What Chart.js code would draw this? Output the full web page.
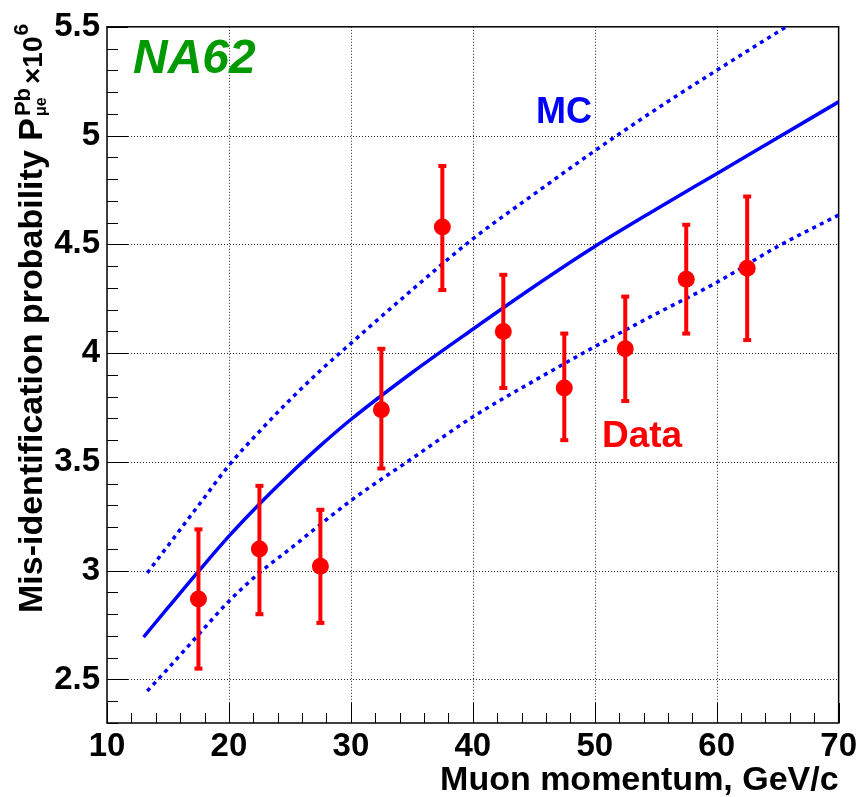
<!DOCTYPE html>
<html>
<head>
<meta charset="utf-8">
<script src="https://cdn.jsdelivr.net/npm/chart.js@4/dist/chart.umd.min.js"></script>
<style>
html,body{margin:0;padding:0;background:#fff;}
#c{display:block;}
</style>
</head>
<body>
<canvas id="c" width="861" height="797"></canvas>
<script>
// ---- data ----
const dataX    = [17.5, 22.5, 27.5, 32.5, 37.5, 42.5, 47.5, 52.5, 57.5, 62.5];
const dataY    = [2.87, 3.10, 3.02, 3.74, 4.58, 4.10, 3.84, 4.02, 4.34, 4.39];
const dataHigh = [3.19, 3.39, 3.28, 4.02, 4.86, 4.36, 4.09, 4.26, 4.59, 4.72];
const dataLow  = [2.55, 2.80, 2.76, 3.47, 4.29, 3.84, 3.60, 3.78, 4.09, 4.06];

const mcX = [13, 15, 17.5, 20, 22.5, 25, 27.5, 30, 35, 40, 45, 50, 55, 60, 65, 70];
const mcY = [2.695, 2.83, 2.997, 3.159, 3.307, 3.445, 3.575, 3.695, 3.91, 4.11, 4.305, 4.49, 4.66, 4.825, 4.99, 5.155];

const mcUpX = [13.3, 15, 17.5, 20, 22.5, 25, 27.5, 30, 35, 40, 45, 50, 55, 60, 65.7];
const mcUpY = [2.99, 3.115, 3.30, 3.484, 3.64, 3.785, 3.92, 4.045, 4.29, 4.525, 4.73, 4.93, 5.12, 5.30, 5.5];

const mcLoX = [13.3, 15, 17.5, 20, 22.5, 25, 30, 35, 40, 45, 50, 55, 60, 65, 70];
const mcLoY = [2.447, 2.55, 2.706, 2.86, 2.99, 3.10, 3.322, 3.515, 3.707, 3.872, 4.03, 4.18, 4.325, 4.49, 4.635];

const xTicks = [10, 20, 30, 40, 50, 60, 70];
const yTicks = [2.5, 3, 3.5, 4, 4.5, 5, 5.5];
const xRange = [10, 70];
const yRange = [2.3, 5.5];

const xTitle = 'Muon momentum, GeV/c';
const yTitleMain = 'Mis-identification probability P';
const yTitleSup = 'Pb';
const yTitleSub = 'μe';
const yTitleTimes = '×10';
const yTitleExp = '6';

const FONT = "'Liberation Sans', Arial, Helvetica, sans-serif";

function pts(xs, ys) { return xs.map((x, i) => ({x: x, y: ys[i]})); }

// ---- plugin: frame, dotted grid, ticks, error bars, titles ----
const framePlugin = {
  id: 'frame',
  beforeDatasetsDraw(chart) {
    const {ctx, chartArea: a, scales: {x, y}} = chart;
    ctx.save();
    ctx.strokeStyle = 'rgba(0,0,0,0.85)';
    ctx.lineWidth = 1;
    ctx.setLineDash([1, 2]);
    xTicks.forEach(v => {
      if (v <= xRange[0] || v >= xRange[1]) return;
      const px = Math.round(x.getPixelForValue(v)) + 0.5;
      ctx.beginPath(); ctx.moveTo(px, a.top); ctx.lineTo(px, a.bottom); ctx.stroke();
    });
    yTicks.forEach(v => {
      if (v <= yRange[0] || v >= yRange[1]) return;
      const py = Math.round(y.getPixelForValue(v)) + 0.5;
      ctx.beginPath(); ctx.moveTo(a.left, py); ctx.lineTo(a.right, py); ctx.stroke();
    });
    ctx.setLineDash([]);
    ctx.strokeStyle = '#000';
    for (let v = xRange[0]; v <= xRange[1] + 1e-9; v += 2) {
      const major = Math.abs(v / 10 - Math.round(v / 10)) < 1e-6;
      const px = Math.round(x.getPixelForValue(v)) + 0.5;
      const len = major ? 20 : 10;
      ctx.beginPath(); ctx.moveTo(px, a.bottom); ctx.lineTo(px, a.bottom - len); ctx.stroke();
    }
    for (let k = 23; k <= 55; k++) {
      const v = k / 10;
      const major = k % 5 === 0;
      const py = Math.round(y.getPixelForValue(v)) + 0.5;
      const len = major ? 21 : 11;
      ctx.beginPath(); ctx.moveTo(a.left, py); ctx.lineTo(a.left + len, py); ctx.stroke();
    }
    ctx.lineWidth = 1.5;
    ctx.strokeRect(a.left, a.top, a.right - a.left, a.bottom - a.top);
    ctx.restore();
  },
  beforeDatasetDraw(chart, args) {
    if (args.index !== 0) return;
    const {ctx, scales: {x, y}} = chart;
    ctx.save();
    ctx.strokeStyle = '#ff0000';
    ctx.fillStyle = '#ff0000';
    ctx.lineWidth = 4;
    dataX.forEach((xv, i) => {
      const px = x.getPixelForValue(xv);
      const pHi = y.getPixelForValue(dataHigh[i]);
      const pLo = y.getPixelForValue(dataLow[i]);
      ctx.beginPath(); ctx.moveTo(px, pHi); ctx.lineTo(px, pLo); ctx.stroke();
      ctx.fillRect(px - 4, pHi - 2, 8, 4);
      ctx.fillRect(px - 4, pLo - 2, 8, 4);
    });
    ctx.restore();
  },
  afterDraw(chart) {
    const {ctx, chartArea: a} = chart;
    ctx.save();
    ctx.fillStyle = '#000';
    ctx.font = 'bold 34px ' + FONT;
    ctx.textAlign = 'right';
    ctx.textBaseline = 'alphabetic';
    ctx.fillText(xTitle, a.right, 790);
    // rotated y title
    ctx.translate(42, 613);
    ctx.rotate(-Math.PI / 2);
    ctx.textAlign = 'left';
    ctx.font = 'bold 34px ' + FONT;
    ctx.fillText(yTitleMain, 0, 0);
    let w = ctx.measureText(yTitleMain).width + 2;
    ctx.font = 'bold 22px ' + FONT;
    ctx.fillText(yTitleSup, w, -12);
    const wSup = ctx.measureText(yTitleSup).width;
    ctx.font = 'bold 16px ' + FONT;
    ctx.fillText(yTitleSub, w, 4);
    const wSub = ctx.measureText(yTitleSub).width;
    w += Math.max(wSup, wSub) + 4;
    ctx.font = 'bold 28px ' + FONT;
    ctx.fillText(yTitleTimes, w, 0);
    w += ctx.measureText(yTitleTimes).width + 1;
    ctx.font = 'bold 21px ' + FONT;
    ctx.fillText(yTitleExp, w, -14);
    ctx.restore();

    ctx.save();
    ctx.textAlign = 'left';
    ctx.textBaseline = 'alphabetic';
    ctx.fillStyle = '#009a00';
    ctx.font = 'italic bold 48px ' + FONT;
    ctx.fillText('NA62', 133, 73);
    ctx.fillStyle = '#0000ff';
    ctx.font = 'bold 36px ' + FONT;
    ctx.fillText('MC', 536, 123);
    ctx.fillStyle = '#ff0000';
    ctx.font = 'bold 37px ' + FONT;
    ctx.fillText('Data', 602, 447);
    ctx.restore();
  }
};

const lineBase = {
  showLine: true,
  pointRadius: 0,
  pointHoverRadius: 0,
  borderColor: '#0000ff',
  backgroundColor: '#0000ff',
  fill: false,
  tension: 0.4,
  cubicInterpolationMode: 'monotone'
};

new Chart(document.getElementById('c'), {
  type: 'scatter',
  data: {
    datasets: [
      {
        label: 'Data',
        data: pts(dataX, dataY),
        pointRadius: 8.5,
        pointHoverRadius: 8.5,
        pointBackgroundColor: '#ff0000',
        pointBorderColor: '#ff0000',
        pointBorderWidth: 0,
        showLine: false
      },
      Object.assign({label: 'MC', data: pts(mcX, mcY), borderWidth: 3.5}, lineBase),
      Object.assign({label: 'MC up', data: pts(mcUpX, mcUpY), borderWidth: 3.5, borderDash: [4, 4.5]}, lineBase),
      Object.assign({label: 'MC low', data: pts(mcLoX, mcLoY), borderWidth: 3.5, borderDash: [4, 4.5]}, lineBase)
    ]
  },
  options: {
    responsive: false,
    animation: false,
    devicePixelRatio: 1,
    layout: {padding: {top: 16, right: 20, bottom: 0, left: 0}},
    plugins: {legend: {display: false}, tooltip: {enabled: false}},
    events: [],
    scales: {
      x: {
        type: 'linear',
        min: xRange[0], max: xRange[1],
        afterBuildTicks: s => { s.ticks = xTicks.map(v => ({value: v})); },
        afterFit: s => { s.height = 74; },
        grid: {display: false, drawTicks: false},
        border: {display: false},
        ticks: {
          color: '#000',
          font: {family: FONT, size: 33, weight: 'bold'},
          padding: 4,
          maxRotation: 0,
          autoSkip: false,
          callback: v => String(v)
        }
      },
      y: {
        type: 'linear',
        min: yRange[0], max: yRange[1],
        afterBuildTicks: s => { s.ticks = yTicks.map(v => ({value: v})); },
        afterFit: s => { s.width = 107; },
        grid: {display: false, drawTicks: false},
        border: {display: false},
        ticks: {
          color: '#000',
          font: {family: FONT, size: 33, weight: 'bold'},
          padding: 7,
          autoSkip: false,
          callback: v => String(v)
        }
      }
    }
  },
  plugins: [framePlugin]
});
</script>
</body>
</html>
